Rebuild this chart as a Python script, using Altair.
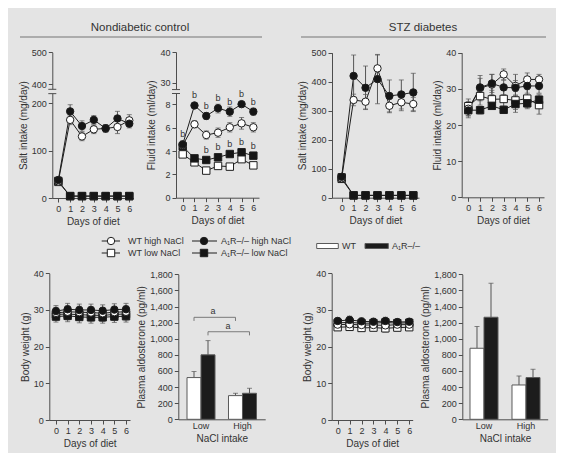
import altair as alt
import pandas as pd

# ---------------- data ----------------
days = [0, 1, 2, 3, 4, 5, 6]
SERIES = ["WT low", "A1R low", "WT high", "A1R high"]

# Nondiabetic control - salt intake (mg/day)
nd_salt_wt_low = [34, 4, 4, 4, 4, 4, 4]
nd_salt_ko_low = [36, 4, 4, 4, 4, 4, 4]
nd_salt_wt_high = [35, 165, 130, 145, 147, 150, 164]
nd_salt_ko_high = [38, 183, 152, 165, 147, 168, 157]
nd_salt_err_wt_low = [3, 1, 1, 1, 1, 1, 1]
nd_salt_err_ko_low = [3, 1, 1, 1, 1, 1, 1]
nd_salt_err_wt_high = [4, 10, 9, 9, 8, 14, 12]
nd_salt_err_ko_high = [4, 14, 11, 9, 8, 15, 9]

# Nondiabetic control - fluid intake (ml/day)
nd_fluid_wt_low = [3.71, 3.03, 2.32, 2.72, 2.66, 3.30, 2.77]
nd_fluid_ko_low = [4.40, 3.37, 3.23, 3.46, 3.74, 3.89, 3.60]
nd_fluid_wt_high = [4.50, 6.29, 5.37, 5.57, 6.03, 6.37, 6.03]
nd_fluid_ko_high = [4.57, 7.90, 7.00, 7.66, 7.37, 8.14, 7.37]
nd_fluid_err_wt_low = [0.2, 0.2, 0.2, 0.2, 0.2, 0.2, 0.2]
nd_fluid_err_ko_low = [0.25, 0.2, 0.25, 0.25, 0.2, 0.25, 0.2]
nd_fluid_err_wt_high = [0.3, 0.3, 0.35, 0.4, 0.4, 0.5, 0.4]
nd_fluid_err_ko_high = [0.3, 0.25, 0.3, 0.4, 0.4, 0.3, 0.3]
nd_fluid_sig_ko_high_days = [0, 1, 2, 3, 4, 5, 6]
nd_fluid_sig_ko_low_days = [2, 3, 4, 5, 6]

# STZ diabetes - salt intake (mg/day)
stz_salt_wt_low = [65, 8, 8, 8, 8, 8, 8]
stz_salt_ko_low = [70, 8, 8, 8, 8, 8, 8]
stz_salt_wt_high = [67, 337, 331, 446, 317, 329, 323]
stz_salt_ko_high = [72, 420, 379, 409, 351, 356, 363]
stz_salt_err_wt_low = [5, 2, 2, 2, 2, 2, 2]
stz_salt_err_ko_low = [5, 2, 2, 2, 2, 2, 2]
stz_salt_err_wt_high = [6, 20, 25, 46, 24, 29, 23]
stz_salt_err_ko_high = [8, 72, 75, 85, 55, 50, 66]

# STZ diabetes - fluid intake (ml/day)
stz_fluid_wt_low = [25.2, 28.0, 27.1, 27.2, 26.8, 27.3, 25.5]
stz_fluid_ko_low = [24.1, 24.1, 25.3, 24.2, 25.8, 26.0, 27.0]
stz_fluid_wt_high = [24.5, 30.2, 31.2, 34.0, 30.8, 32.6, 32.6]
stz_fluid_ko_high = [24.0, 30.4, 31.5, 30.4, 30.3, 30.8, 30.8]
stz_fluid_err_wt_low = [2.0, 2.5, 2.5, 2.5, 2.5, 2.5, 2.5]
stz_fluid_err_ko_low = [1.5, 1.0, 1.0, 1.0, 2.3, 1.5, 1.5]
stz_fluid_err_wt_high = [2.0, 3.5, 2.8, 1.5, 3.2, 1.8, 1.4]
stz_fluid_err_ko_high = [2.0, 2.5, 2.5, 2.0, 2.0, 2.0, 2.0]

# Body weight (g)
nd_bw_wt_low = [28.8, 28.9, 28.7, 28.6, 28.5, 28.8, 28.9]
nd_bw_ko_low = [28.2, 28.4, 28.1, 28.0, 28.0, 28.2, 28.3]
nd_bw_wt_high = [29.2, 29.5, 29.4, 29.3, 29.1, 29.4, 29.5]
nd_bw_ko_high = [29.7, 30.2, 30.0, 30.0, 29.8, 30.1, 30.2]
nd_bw_err = [1.5, 1.6, 1.6, 1.6, 1.6, 1.6, 1.6]
stz_bw_wt_low = [25.3, 25.4, 25.1, 25.2, 25.0, 25.2, 25.3]
stz_bw_ko_low = [26.5, 26.6, 26.4, 26.4, 26.6, 26.4, 26.5]
stz_bw_wt_high = [26.0, 26.1, 25.9, 25.9, 25.8, 26.0, 26.0]
stz_bw_ko_high = [27.0, 27.3, 26.9, 26.8, 27.0, 26.7, 26.8]
stz_bw_err = [0.9, 1.0, 0.9, 0.9, 1.0, 0.9, 0.9]

# Plasma aldosterone (pg/ml)
levels = ["Low", "High"]
genotypes = ["WT", "A1R"]
nd_aldo_wt = [518, 294]
nd_aldo_ko = [800, 323]
nd_aldo_err_wt = [75, 29]
nd_aldo_err_ko = [177, 62]
stz_aldo_wt = [882, 426]
stz_aldo_ko = [1267, 518]
stz_aldo_err_wt = [270, 112]
stz_aldo_err_ko = [422, 103]
nd_bracket_wt = 1266
nd_bracket_ko = 1087

# ---------------- style ----------------
W, H = 548, 445
BG = "#e4e4e4"
INK = "#1e1e1e"
TXT = "#333333"
AXC = "#4d4d4d"
ERR = "#555555"
FONT = "Liberation Sans"


def series_df(vals, errs):
    rows = []
    for s, v_list, e_list in zip(SERIES, vals, errs):
        for d, v, e in zip(days, v_list, e_list):
            rows.append(dict(day=d, value=v, lo=v - e, hi=v + e, series=s))
    return pd.DataFrame(rows)


fill_scale = alt.Scale(domain=SERIES, range=["white", "#151515", "white", "#151515"])
shape_scale = alt.Scale(domain=SERIES, range=["square", "square", "circle", "circle"])


def line_panel(df, xr, xd, yd, yr, yticks, ytitle, sig=None, brk=None):
    xs = alt.Scale(domain=xd, range=xr, nice=False, zero=False)
    ys = alt.Scale(domain=yd, range=yr, nice=False, zero=False)
    xa = alt.Axis(orient="bottom", offset=yr[0] - H, values=days, title="Days of diet")
    ya = alt.Axis(orient="left", offset=-xr[0], values=yticks, title=ytitle)
    X = alt.X("day:Q", scale=xs, axis=xa)

    def Y(f):
        return alt.Y(f, type="quantitative", scale=ys, axis=ya)

    base = alt.Chart(df)
    layers = [
        base.mark_line(color=INK, strokeWidth=1).encode(x=X, y=Y("value"), detail="series:N"),
        base.mark_rule(color=ERR, strokeWidth=1).encode(x=X, y=Y("lo"), y2="hi:Q"),
        base.mark_tick(orient="horizontal", size=5, thickness=1, color=ERR).encode(x=X, y=Y("hi")),
        base.mark_tick(orient="horizontal", size=5, thickness=1, color=ERR).encode(x=X, y=Y("lo")),
        base.mark_point(filled=True, size=55, opacity=1, stroke=INK, strokeWidth=1).encode(
            x=X, y=Y("value"),
            shape=alt.Shape("series:N", scale=shape_scale, legend=None),
            fill=alt.Fill("series:N", scale=fill_scale, legend=None),
        ),
    ]
    if sig is not None:
        layers.append(
            alt.Chart(sig).mark_text(dy=-10, fontSize=9, color=TXT, font=FONT).encode(
                x=X, y=Y("value"), text=alt.value("b")
            )
        )
    if brk is not None:
        bdf = pd.DataFrame({"b1": [brk[0]], "b2": [brk[1]]})
        ax = xr[0]
        layers.append(
            alt.Chart(bdf).mark_rect(color=BG).encode(
                x=alt.value(ax - 3), x2=alt.value(ax + 3), y=Y("b1"), y2="b2:Q"
            )
        )
        for f in ["b1", "b2"]:
            layers.append(
                alt.Chart(bdf).mark_rule(color=AXC, strokeWidth=1).encode(
                    x=alt.value(ax - 4), x2=alt.value(ax + 4), y=Y(f)
                )
            )
    return alt.layer(*layers)


def bar_panel(wt, ko, ewt, eko, xr, pi, po, yd, yr, brackets=None):
    rows = []
    for i, lv in enumerate(levels):
        rows.append(dict(level=lv, genotype="WT", value=wt[i], hi=wt[i] + ewt[i]))
        rows.append(dict(level=lv, genotype="A1R", value=ko[i], hi=ko[i] + eko[i]))
    df = pd.DataFrame(rows)
    xs = alt.Scale(domain=levels, range=xr, paddingInner=pi, paddingOuter=po)
    xo = alt.XOffset("genotype:N", scale=alt.Scale(domain=genotypes))
    ys = alt.Scale(domain=yd, range=yr, nice=False, zero=False)
    xa = alt.Axis(orient="bottom", offset=yr[0] - H, title="NaCl intake", ticks=False, labelAngle=0)
    ya = alt.Axis(orient="left", offset=-xr[0], values=list(range(0, 2000, 200)), format=",.0f",
                  title="Plasma aldosterone (pg/ml)")
    X = alt.X("level:N", scale=xs, axis=xa)

    def Y(f):
        return alt.Y(f, type="quantitative", scale=ys, axis=ya)

    base = alt.Chart(df)
    layers = [
        base.mark_rule(color=ERR, strokeWidth=1).encode(x=X, xOffset=xo, y=Y("value"), y2="hi:Q"),
        base.mark_tick(orient="horizontal", size=5, thickness=1, color=ERR).encode(x=X, xOffset=xo, y=Y("hi")),
        base.mark_bar(stroke="#5a5a5a", strokeWidth=1).encode(
            x=X, xOffset=xo, y=Y("value"),
            color=alt.Color("genotype:N", scale=alt.Scale(domain=genotypes, range=["white", "#1c1c1c"]), legend=None),
        ),
    ]
    if brackets is not None:
        brow = []
        for g, yv in zip(genotypes, brackets):
            pts = [("Low", yv - 45), ("Low", yv), ("High", yv), ("High", yv - 45)]
            for k, (lv, v) in enumerate(pts):
                brow.append(dict(level=lv, genotype=g, value=v, k=k, bid=g))
        bdf = pd.DataFrame(brow)
        layers.append(
            alt.Chart(bdf).mark_line(color="#7a7a7a", strokeWidth=1).encode(
                x=X, xOffset=xo, y=Y("value"), detail="bid:N", order="k:Q"
            )
        )
        adf = pd.DataFrame({"value": brackets})
        for i, px in enumerate([205, 220]):
            layers.append(
                alt.Chart(adf.iloc[[i]]).mark_text(dy=-6, fontSize=9, color=TXT, font=FONT).encode(
                    x=alt.value(px), y=Y("value"), text=alt.value("a")
                )
            )
    return alt.layer(*layers)


p1 = line_panel(
    series_df([nd_salt_wt_low, nd_salt_ko_low, nd_salt_wt_high, nd_salt_ko_high],
              [nd_salt_err_wt_low, nd_salt_err_ko_low, nd_salt_err_wt_high, nd_salt_err_ko_high]),
    [44.3, 125.3], [-0.51, 6.34], [0, 200, 400, 500], [190, 95.3, 76, 44.3],
    [0, 100, 200, 400, 500], "Salt intake (mg/day)", brk=[300, 345])

sig_rows = [dict(day=d, value=nd_fluid_ko_high[d]) for d in nd_fluid_sig_ko_high_days] + \
           [dict(day=d, value=nd_fluid_ko_low[d]) for d in nd_fluid_sig_ko_low_days]
p2 = line_panel(
    series_df([nd_fluid_wt_low, nd_fluid_ko_low, nd_fluid_wt_high, nd_fluid_ko_high],
              [nd_fluid_err_wt_low, nd_fluid_err_ko_low, nd_fluid_err_wt_high, nd_fluid_err_ko_high]),
    [168, 251], [-0.57, 6.48], [0, 8, 30, 40], [189.7, 96.3, 74.7, 44],
    [0, 2, 4, 6, 8, 30, 40], "Fluid intake (ml/day)", sig=pd.DataFrame(sig_rows), brk=[19, 23])

p3 = line_panel(
    series_df([stz_salt_wt_low, stz_salt_ko_low, stz_salt_wt_high, stz_salt_ko_high],
              [stz_salt_err_wt_low, stz_salt_err_ko_low, stz_salt_err_wt_high, stz_salt_err_ko_high]),
    [324, 411], [-0.81, 6.48], [0, 500], [189.7, 44.7],
    [0, 100, 200, 300, 400, 500], "Salt intake (mg/day)")

p4 = line_panel(
    series_df([stz_fluid_wt_low, stz_fluid_ko_low, stz_fluid_wt_high, stz_fluid_ko_high],
              [stz_fluid_err_wt_low, stz_fluid_err_ko_low, stz_fluid_err_wt_high, stz_fluid_err_ko_high]),
    [453.7, 536], [-0.56, 6.42], [0, 40], [189.3, 44.7],
    [0, 10, 20, 30, 40], "Fluid intake (ml/day)")

p5 = line_panel(
    series_df([nd_bw_wt_low, nd_bw_ko_low, nd_bw_wt_high, nd_bw_ko_high], [nd_bw_err] * 4),
    [41.3, 122], [-0.57, 6.34], [0, 40], [412, 265.3],
    [0, 10, 20, 30, 40], "Body weight (g)")

p7 = line_panel(
    series_df([stz_bw_wt_low, stz_bw_ko_low, stz_bw_wt_high, stz_bw_ko_high], [stz_bw_err] * 4),
    [323.7, 404.7], [-0.5, 6.29], [0, 40], [412, 265.3],
    [0, 10, 20, 30, 40], "Body weight (g)")

p6 = bar_panel(nd_aldo_wt, nd_aldo_ko, nd_aldo_err_wt, nd_aldo_err_ko,
               [170.3, 257.2], 0.325, 0.21, [0, 1800], [411.3, 266.3],
               brackets=[nd_bracket_wt, nd_bracket_ko])
p8 = bar_panel(stz_aldo_wt, stz_aldo_ko, stz_aldo_err_wt, stz_aldo_err_ko,
               [454.3, 539.7], 0.333, 0.183, [0, 1800], [411.3, 266.3])

# ---------------- decorations: headers and legends ----------------
one = pd.DataFrame({"k": [0]})


def txt(s, x, y, size=9, align="left"):
    return alt.Chart(one).mark_text(fontSize=size, font=FONT, color=TXT, align=align, baseline="middle").encode(
        x=alt.value(x), y=alt.value(y), text=alt.value(s))


def hline(x1, x2, y, color=INK, w=1):
    return alt.Chart(one).mark_rule(color=color, strokeWidth=w).encode(
        x=alt.value(x1), x2=alt.value(x2), y=alt.value(y))


def marker(x, y, shape, fill):
    return alt.Chart(one).mark_point(filled=True, size=55, opacity=1, stroke=INK, strokeWidth=1).encode(
        x=alt.value(x), y=alt.value(y), shape=alt.value(shape), fill=alt.value(fill))


def box(x1, x2, y1, y2, fill):
    return alt.Chart(one).mark_rect(fill=fill, stroke="#5a5a5a", strokeWidth=1).encode(
        x=alt.value(x1), x2=alt.value(x2), y=alt.value(y1), y2=alt.value(y2))


deco = [
    txt("Nondiabetic control", 132, 20, 11.5, "center"),
    hline(12, 254, 29, "#9a9a9a", 1.5),
    txt("STZ diabetes", 415, 20, 11.5, "center"),
    hline(293, 538, 29, "#9a9a9a", 1.5),
    # line-chart legend
    hline(93.7, 112, 233), marker(103, 233, "circle", "white"), txt("WT high NaCl", 120, 233),
    hline(93.7, 112, 245), marker(103, 245, "square", "white"), txt("WT low NaCl", 120, 245),
    hline(184, 209, 233), marker(196, 233, "circle", "#151515"), txt("A\u2081R\u2013/\u2013 high NaCl", 213, 233),
    hline(184, 209, 245), marker(196, 245, "square", "#151515"), txt("A\u2081R\u2013/\u2013 low NaCl", 213, 245),
    # bar legend
    box(308.7, 330.3, 235.5, 240.5, "white"), txt("WT", 334, 238),
    box(357, 380.3, 235.5, 240.5, "#1c1c1c"), txt("A\u2081R\u2013/\u2013", 384, 238),
]

chart = alt.layer(p1, p2, p3, p4, p5, p6, p7, p8, *deco).resolve_scale(
    x="independent", y="independent", xOffset="independent"
).properties(
    width=W, height=H, background=BG, padding=0,
    autosize=alt.AutoSizeParams(type="none"),
).configure_axis(
    labelFont=FONT, titleFont=FONT, labelFontSize=9, titleFontSize=10,
    labelColor=TXT, titleColor=TXT, titleFontWeight="normal",
    domainColor=AXC, tickColor=AXC, tickSize=4, labelPadding=2, titlePadding=3,
    grid=False, labelFlush=False, labelOverlap=False,
).configure_view(stroke=None)

chart.save("out.html", embed_options={"renderer": "svg", "actions": False})
